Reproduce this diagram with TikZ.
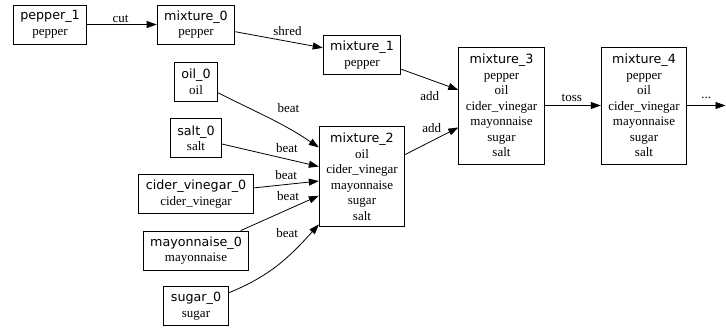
\documentclass[tikz,border=0pt]{standalone}
\usepackage{fontspec}
\setmainfont{Liberation Serif}
\newfontfamily\titlefont{DejaVu Sans}
\usetikzlibrary{arrows.meta}
\newcommand{\mixtitle}[1]{{\titlefont\fontsize{12.7}{15.5}\selectfont #1}}
\tikzstyle{flow} = [->, >={Triangle[length=10pt,width=7pt]}, line width=0.8pt, black]
\tikzstyle{mix} = [rectangle, draw, line width=0.9pt, align=center, inner xsep=7pt, inner ysep=0pt, minimum height=39pt, font=\fontsize{13}{15.5}\selectfont]

\begin{document}
\begin{tikzpicture}[x=1pt, y=-1pt,
    lbl/.style={font=\fontsize{13}{15.5}\selectfont, inner sep=0pt}]
\useasboundingbox (0,0) rectangle (726,327);

% Ingredients
\node[mix] (pepper_1) at (50,24.5) {\mixtitle{pepper\_1}\\pepper};
\node[mix] (oil_0) at (196,81.5) {\mixtitle{oil\_0}\\oil};
\node[mix] (salt_0) at (196,138) {\mixtitle{salt\_0}\\salt};
\node[mix] (cider_vinegar_0) at (196,194) {\mixtitle{cider\_vinegar\_0}\\cider\_vinegar};
\node[mix] (mayonnaise_0) at (196,250.5) {\mixtitle{mayonnaise\_0}\\mayonnaise};
\node[mix] (sugar_0) at (196,306) {\mixtitle{sugar\_0}\\sugar};

% Mixtures
\node[mix] (mixture_0) at (196,24.5) {\mixtitle{mixture\_0}\\pepper};
\node[mix] (mixture_1) at (362,55) {\mixtitle{mixture\_1}\\pepper};
\node[mix, minimum height=100pt] (mixture_2) at (362,176.5) {\mixtitle{mixture\_2}\\oil\\cider\_vinegar\\mayonnaise\\sugar\\salt};
\node[mix, minimum height=117pt] (mixture_3) at (501.5,105.5) {\mixtitle{mixture\_3}\\pepper\\oil\\cider\_vinegar\\mayonnaise\\sugar\\salt};
\node[mix, minimum height=117pt] (mixture_4) at (644,105.5) {\mixtitle{mixture\_4}\\pepper\\oil\\cider\_vinegar\\mayonnaise\\sugar\\salt};
\coordinate (rest) at (725.5,105.5);

% Steps
\draw[flow] (pepper_1) -- node[lbl, xshift=-1.5pt, yshift=5.5pt] {cut} (mixture_0);
\draw[flow] (mixture_0) -- node[lbl, xshift=8.5pt, yshift=8.7pt] {shred} (mixture_1);
\draw[flow] (mixture_1) -- node[lbl, yshift=-16pt] {add} (mixture_3);
\draw[flow] (mixture_2) -- node[lbl, yshift=13pt] {add} (mixture_3);
\draw[flow] (mixture_3) -- node[lbl, xshift=-1pt, yshift=7.5pt] {toss} (mixture_4);
\draw[flow] (mixture_4) -- node[lbl, yshift=7.5pt] {...} (rest);

\draw[flow] (oil_0) to[out=-27, in=146] node[lbl, xshift=19pt, yshift=10pt] {beat} (mixture_2);
\draw[flow] (salt_0) -- node[lbl, xshift=16.5pt, yshift=7.4pt] {beat} (mixture_2);
\draw[flow] (cider_vinegar_0) -- node[lbl, yshift=9pt] {beat} (mixture_2);
\draw[flow] (mayonnaise_0) -- node[lbl, xshift=8.3pt, yshift=17.4pt] {beat} (mixture_2);
\draw[flow] (sugar_0) to[out=22, in=228] node[lbl, xshift=9.3pt, yshift=32pt] {beat} (mixture_2);
\end{tikzpicture}
\end{document}
